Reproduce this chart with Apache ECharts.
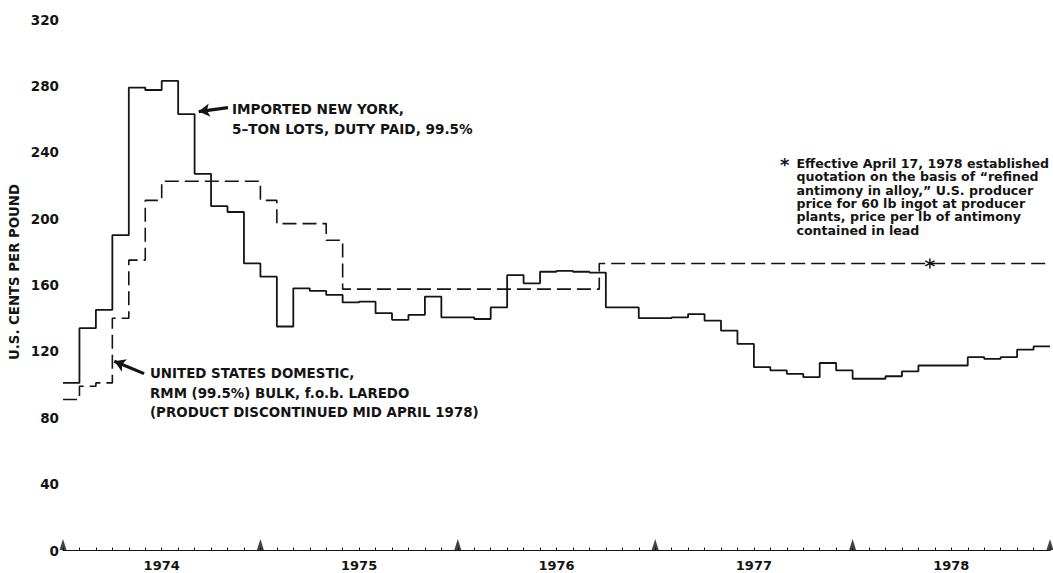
<!DOCTYPE html>
<html>
<head>
<meta charset="utf-8">
<script src="https://cdn.jsdelivr.net/npm/echarts@6/dist/echarts.min.js"></script>
<style>html,body{margin:0;padding:0;background:#fff}#c{width:1053px;height:573px}</style>
</head>
<body>
<div id="c"></div>
<script>
// ---- data (months counted from January 1974 = 0) ----
const years = ['1974', '1975', '1976', '1977', '1978'];
const yearBoundaries = [0, 12, 24, 36, 48, 60];
const yMin = 0, yMax = 320, yStep = 40;

// Imported New York, 5-ton lots, duty paid, 99.5% — monthly, Jan 1974 .. Dec 1978
const importedNY = [
  101, 134, 145, 190, 279, 277.5, 283, 263, 227, 207.5, 204, 173,
  165, 135, 158, 156.5, 154, 149.5, 150, 143, 139, 142, 153, 140.5,
  140.5, 139.5, 146.5, 166, 161, 168, 168.5, 168, 167.5, 146.5, 146.5, 140,
  140, 140.5, 142.5, 138.5, 132.5, 124.5, 110.5, 108.5, 106.5, 104.5, 113, 108.5,
  103.5, 103.5, 105, 108, 111.5, 111.5, 111.5, 116.5, 115.5, 116.5, 121, 123
];

// United States domestic — price change points (month, cents)
const domesticChangeMonth = [0, 1, 2, 3, 4, 5, 6, 12, 13, 16, 17, 32.6];
const domesticPrice       = [91, 99, 101, 140, 175, 211, 222.5, 211, 197, 187, 157.5, 173];
const seriesEndMonth = 60;

// footnote marker on the producer-price line
const footnoteMark = [52.7, 173];

// ---- build ----
const nyData = importedNY.map((v, i) => [i, v]);
nyData.push([seriesEndMonth, importedNY[importedNY.length - 1]]);
const domData = domesticChangeMonth.map((m, i) => [m, domesticPrice[i]]);
domData.push([seriesEndMonth, domesticPrice[domesticPrice.length - 1]]);

const INK = '#141414';
const F = '"DejaVu Sans", "Liberation Sans", sans-serif';
const ASTERISK = 'path://M4.3 0L5.7 0L5.7 10L4.3 10Z M8.98 1.89L9.68 3.11L1.02 8.11L0.32 6.89Z M1.02 1.89L9.68 6.89L8.98 8.11L0.32 3.11Z';

function txt(x, y, text, size, extra) {
  return Object.assign({
    type: 'text', x: x, y: y, silent: true,
    style: {
      text: text, fill: INK, font: 'bold ' + size + 'px ' + F,
      align: 'left', verticalAlign: 'middle', textAlign: 'left', textVerticalAlign: 'middle'
    }
  }, extra || {});
}

const chart = echarts.init(document.getElementById('c'), null, { renderer: 'svg' });
chart.setOption({
  animation: false,
  backgroundColor: '#ffffff',
  grid: { left: 63, right: 3, top: 19.5, bottom: 22.5 },
  xAxis: [
    {
      type: 'value', min: 0, max: seriesEndMonth, interval: 1,
      axisLine: { lineStyle: { color: INK, width: 1.2 } },
      axisTick: { inside: true, length: 3, lineStyle: { color: INK, width: 1 } },
      axisLabel: { show: false },
      splitLine: { show: false }
    },
    {
      type: 'category', data: years, position: 'bottom', offset: 0, boundaryGap: true,
      axisLine: { show: false }, axisTick: { show: false }, splitLine: { show: false },
      axisLabel: { fontFamily: F, fontWeight: 'bold', fontSize: 13, color: INK, margin: 8 }
    }
  ],
  yAxis: {
    type: 'value', min: yMin, max: yMax, interval: yStep,
    axisLine: { show: false }, axisTick: { show: false }, splitLine: { show: false },
    axisLabel: { fontFamily: F, fontWeight: 'bold', fontSize: 13.5, color: INK, margin: 4 }
  },
  series: [
    {
      name: 'Imported New York', type: 'line', step: 'end', symbol: 'none',
      data: nyData,
      lineStyle: { color: INK, width: 1.8 },
      markLine: {
        silent: true, symbol: ['none', 'arrow'], symbolSize: [10, 11],
        label: { show: false },
        lineStyle: { color: INK, width: 3.2, type: 'solid', curveness: 0.1 },
        data: [[{ coord: [10.03, 266.9] }, { coord: [8.25, 264.5] }]]
      }
    },
    {
      name: 'United States domestic', type: 'line', step: 'end', symbol: 'none',
      data: domData,
      lineStyle: { color: INK, width: 1.6, type: [14, 6] },
      markPoint: {
        silent: true, symbol: ASTERISK, symbolSize: 10,
        itemStyle: { color: INK }, label: { show: false },
        data: [{ coord: footnoteMark }]
      },
      markLine: {
        silent: true, symbol: ['none', 'arrow'], symbolSize: [10, 11],
        label: { show: false },
        lineStyle: { color: INK, width: 3.2, type: 'solid', curveness: -0.25 },
        data: [[{ coord: [4.93, 106.6] }, { coord: [3.12, 114] }]]
      }
    },
    {
      name: 'year marks', type: 'scatter', silent: true, clip: false, z: 5,
      data: yearBoundaries.map(m => [m, 0]),
      symbol: 'triangle', symbolSize: [7, 11], symbolOffset: [0, -6],
      itemStyle: { color: INK }
    }
  ],
  graphic: [
    txt(14, 272, 'U.S. CENTS PER POUND', 13, {
      rotation: Math.PI / 2,
      style: { text: 'U.S. CENTS PER POUND', fill: INK, font: 'bold 13.3px ' + F,
        align: 'center', verticalAlign: 'middle', textAlign: 'center', textVerticalAlign: 'middle' }
    }),
    txt(232, 108.5, 'IMPORTED NEW YORK,', 13.6),
    txt(232, 128.5, '5\u2013TON LOTS, DUTY PAID, 99.5%', 13.6),
    txt(150, 373, 'UNITED STATES DOMESTIC,', 13.4),
    txt(150, 393, 'RMM (99.5%) BULK, f.o.b. LAREDO', 13.4),
    txt(150, 412, '(PRODUCT DISCONTINUED MID APRIL 1978)', 13.4),
    txt(780, 164, '*', 18),
    {
      type: 'text', x: 796.5, y: 156.5, silent: true,
      style: {
        text: 'Effective April 17, 1978 established\nquotation on the basis of \u201Crefined\nantimony in alloy,\u201D U.S. producer\nprice for 60 lb ingot at producer\nplants, price per lb of antimony\ncontained in lead',
        fill: INK, font: 'bold 12.6px ' + F, lineHeight: 13.4,
        align: 'left', verticalAlign: 'top', textAlign: 'left', textVerticalAlign: 'top'
      }
    }
  ]
});
</script>
</body>
</html>
